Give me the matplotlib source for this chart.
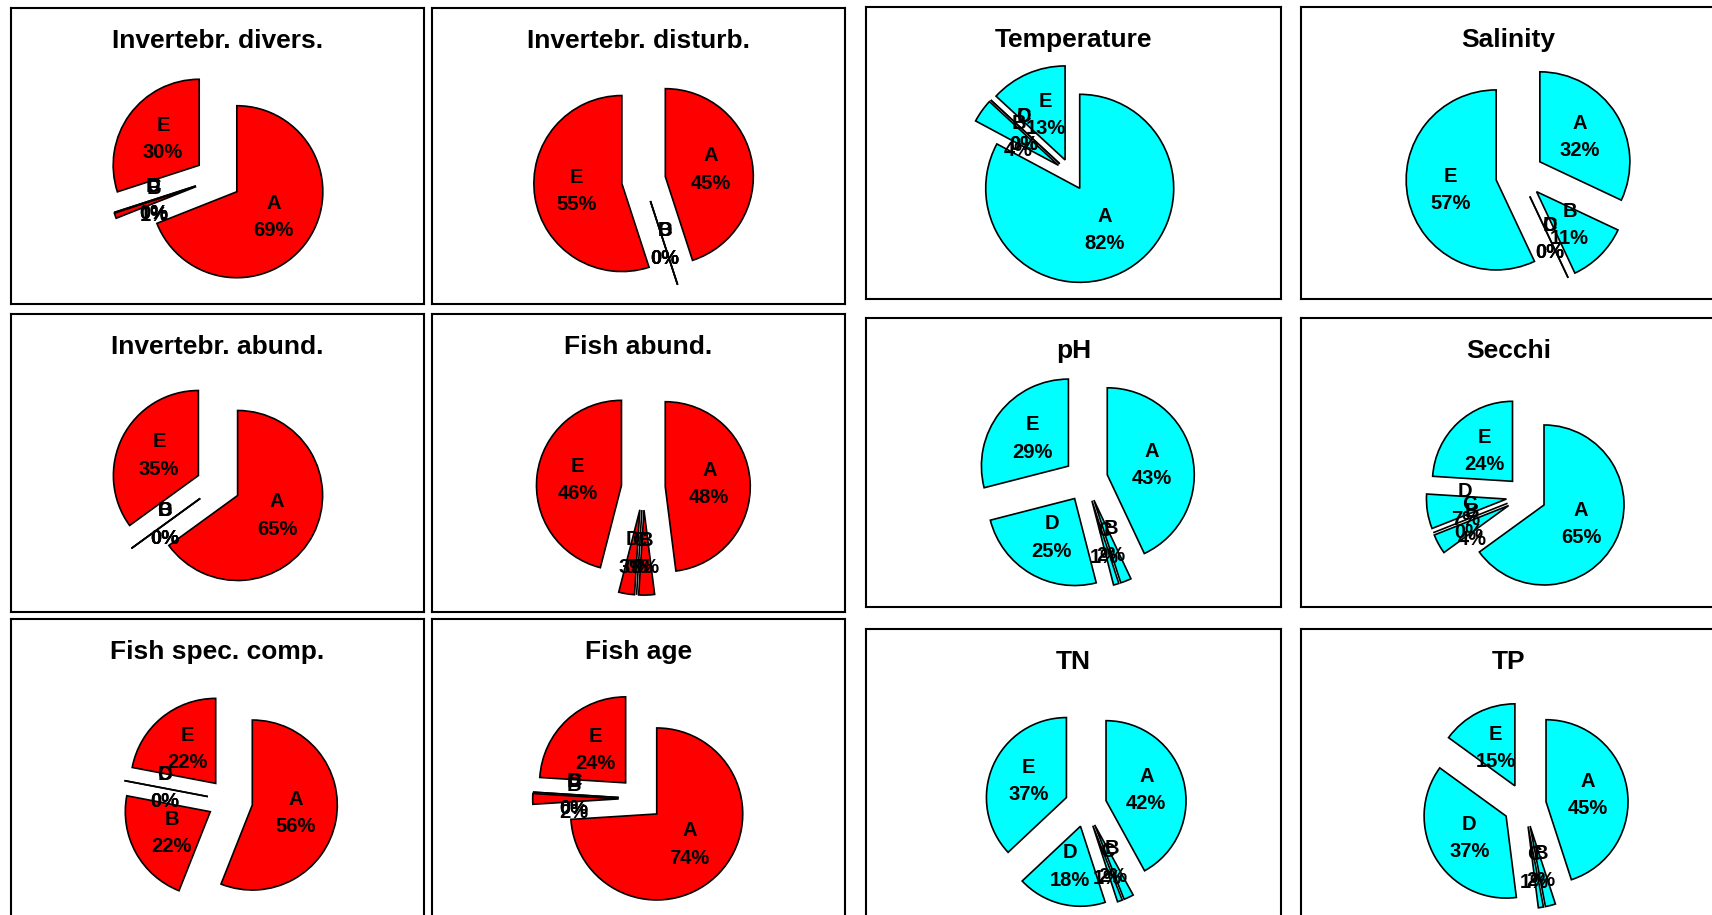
import matplotlib
matplotlib.use("Agg")
import matplotlib.pyplot as plt

plt.rcParams["font.family"] = ["Liberation Sans", "DejaVu Sans"]

# Category of each slice, clockwise from 12 o'clock
categories = ["A", "B", "C", "D", "E"]

# Share (%) of each category per indicator
invert_divers = [69, 1, 0, 0, 30]
invert_disturb = [45, 0, 0, 0, 55]
invert_abund = [65, 0, 0, 0, 35]
fish_abund = [48, 3, 0, 3, 46]
fish_spec = [56, 22, 0, 0, 22]
fish_age = [74, 2, 0, 0, 24]
temperature = [82, 4, 0, 0, 13]
salinity = [32, 11, 0, 0, 57]
ph = [43, 2, 1, 25, 29]
secchi = [65, 4, 0, 7, 24]
tn = [42, 2, 1, 18, 37]
tp = [45, 2, 1, 37, 15]

titles = ["Invertebr. divers.", "Invertebr. disturb.", "Invertebr. abund.",
          "Fish abund.", "Fish spec. comp.", "Fish age",
          "Temperature", "Salinity", "pH", "Secchi", "TN", "TP"]
series = [invert_divers, invert_disturb, invert_abund, fish_abund, fish_spec,
          fish_age, temperature, salinity, ph, secchi, tn, tp]

BIO = "#FF0000"
ENV = "#00FFFF"
colors = [BIO] * 6 + [ENV] * 6

# Panel layout in pixels: box (left, top, right, bottom), pie centre, radius, explode offset
W, H = 1712, 915
layout = [
    ((11, 8, 424, 304), (217.8, 178.8), 86, 23),
    ((432, 8, 845, 304), (643.6, 180.1), 88, 22),
    ((11, 314, 424, 612), (218.0, 485.5), 85, 22),
    ((432, 314, 845, 612), (643.3, 488.1), 85, 22),
    ((11, 619, 424, 918), (230.1, 800.8), 85, 22.6),
    ((432, 619, 845, 918), (640.7, 798.9), 86, 22),
    ((866, 7, 1281, 299), (1071.5, 174.6), 94, 16),
    ((1301, 7, 1716, 299), (1519.6, 174.7), 90, 24),
    ((866, 318, 1281, 607), (1085.8, 479.6), 87, 22),
    ((1301, 318, 1716, 607), (1526.2, 495.9), 80, 20),
    ((866, 629, 1281, 920), (1085.7, 805.9), 80, 21),
    ((1301, 629, 1716, 920), (1524.7, 805.1), 82, 21.6),
]

fig = plt.figure(figsize=(W / 100, H / 100), dpi=100)
fig.patch.set_facecolor("white")

for title, vals, col, (box, cen, r, d) in zip(titles, series, colors, layout):
    L, T, R, B = box
    w, h = R - L, B - T
    ax = fig.add_axes([L / W, 1 - B / H, w / W, h / H])
    labels = [f"{c}\n{v:g}%" for c, v in zip(categories, vals)]
    wedges, texts = ax.pie(
        vals, labels=labels, colors=[col] * len(vals),
        startangle=90, counterclock=False,
        explode=[d] * len(vals), radius=r,
        center=(cen[0] - L, B - cen[1]), labeldistance=0.52,
        frame=True,
        wedgeprops=dict(edgecolor="black", linewidth=1.2),
        textprops=dict(fontsize=14.5, fontweight="bold", color="black",
                       linespacing=1.55),
    )
    for t in texts:
        t.set_horizontalalignment("center")
        t.set_verticalalignment("center")
    ax.set_xlim(0, w)
    ax.set_ylim(0, h)
    ax.set_aspect("auto")
    ax.set_xticks([])
    ax.set_yticks([])
    for s in ax.spines.values():
        s.set_linewidth(1.5)
        s.set_color("black")
    ax.text(w / 2, h - 40, title, ha="center", va="baseline",
            fontsize=19, fontweight="bold")

fig.savefig("out.png", dpi=100, facecolor="white")
